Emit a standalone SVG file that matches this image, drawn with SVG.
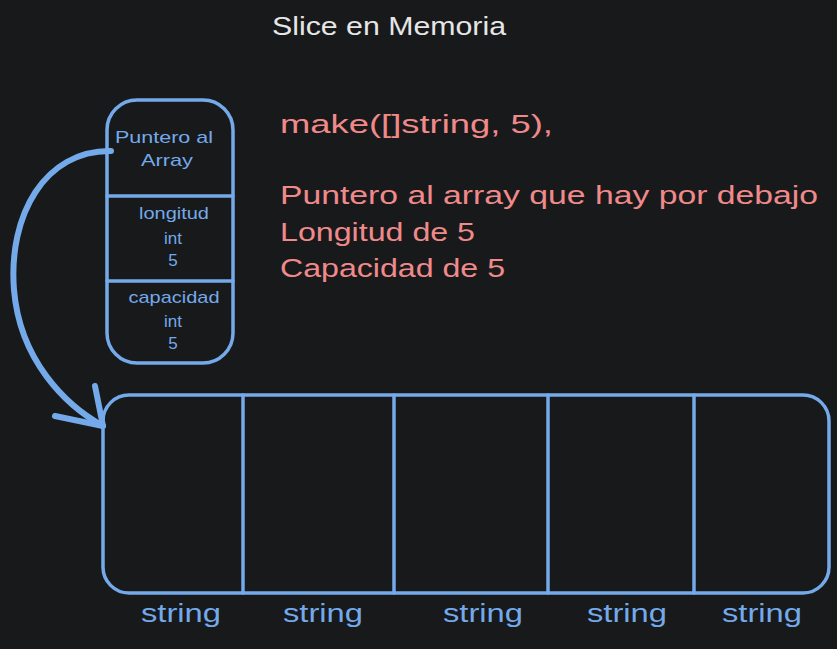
<svg xmlns="http://www.w3.org/2000/svg" width="837" height="649" viewBox="0 0 837 649">
<style>
.bg{fill:#18191b}
.sh{fill:none;stroke:#74a9ea;stroke-width:3.5;stroke-linecap:round;stroke-linejoin:round}
.bt{fill:#74a9ea;font-family:"Liberation Sans",Arial,sans-serif;text-anchor:middle}
.rt{fill:#f08a8a;font-family:"Liberation Sans",Arial,sans-serif;font-size:25px}
.tt{fill:#e6e6e6;font-family:"Liberation Sans",Arial,sans-serif;font-size:25px}
.cn{fill:none;stroke:#74a9ea;stroke-width:6;stroke-linecap:round;stroke-linejoin:round}
</style>
<rect class="bg" x="0" y="0" width="837" height="649"/>
<g id="title"><text class="tt" x="272" y="35" textLength="234" lengthAdjust="spacingAndGlyphs">Slice en Memoria</text></g>
<g id="notes">
<text class="rt" x="280" y="133" textLength="273" lengthAdjust="spacingAndGlyphs">make([]string, 5),</text>
<text class="rt" x="280" y="204" textLength="538" lengthAdjust="spacingAndGlyphs">Puntero al array que hay por debajo</text>
<text class="rt" x="280" y="241" textLength="195" lengthAdjust="spacingAndGlyphs">Longitud de 5</text>
<text class="rt" x="280" y="277" textLength="225" lengthAdjust="spacingAndGlyphs">Capacidad de 5</text>
</g>
<g id="slice-header">
<rect class="sh" x="107" y="100" width="126" height="263" rx="30"/>
<line class="sh" x1="107" y1="196" x2="233" y2="196"/>
<line class="sh" x1="107" y1="281" x2="233" y2="281"/>
<g font-size="17">
<text class="bt" x="164" y="143" textLength="98" lengthAdjust="spacingAndGlyphs">Puntero al</text>
<text class="bt" x="167" y="166" textLength="52" lengthAdjust="spacingAndGlyphs">Array</text>
<text class="bt" x="174" y="219" textLength="70" lengthAdjust="spacingAndGlyphs">longitud</text>
<text class="bt" x="173" y="244">int</text>
<text class="bt" x="173" y="266">5</text>
<text class="bt" x="174" y="303" textLength="91" lengthAdjust="spacingAndGlyphs">capacidad</text>
<text class="bt" x="173" y="327">int</text>
<text class="bt" x="173" y="349">5</text>
</g>
</g>
<g id="array">
<rect class="sh" x="103" y="395" width="726" height="198" rx="26"/>
<line class="sh" x1="243" y1="395" x2="243" y2="593"/>
<line class="sh" x1="394" y1="395" x2="394" y2="593"/>
<line class="sh" x1="548" y1="395" x2="548" y2="593"/>
<line class="sh" x1="694" y1="395" x2="694" y2="593"/>
<g font-size="26">
<text class="bt" x="181" y="622" textLength="80" lengthAdjust="spacingAndGlyphs">string</text>
<text class="bt" x="323" y="622" textLength="80" lengthAdjust="spacingAndGlyphs">string</text>
<text class="bt" x="483" y="622" textLength="80" lengthAdjust="spacingAndGlyphs">string</text>
<text class="bt" x="627" y="622" textLength="80" lengthAdjust="spacingAndGlyphs">string</text>
<text class="bt" x="762" y="622" textLength="80" lengthAdjust="spacingAndGlyphs">string</text>
</g>
</g>
<g id="connectors">
<path class="cn" d="M111,151 C45,150 8,215 14,290 C20,360 65,405 103,426"/>
<path class="cn" d="M95,386 L103,426 L55,416"/>
</g>
</svg>
